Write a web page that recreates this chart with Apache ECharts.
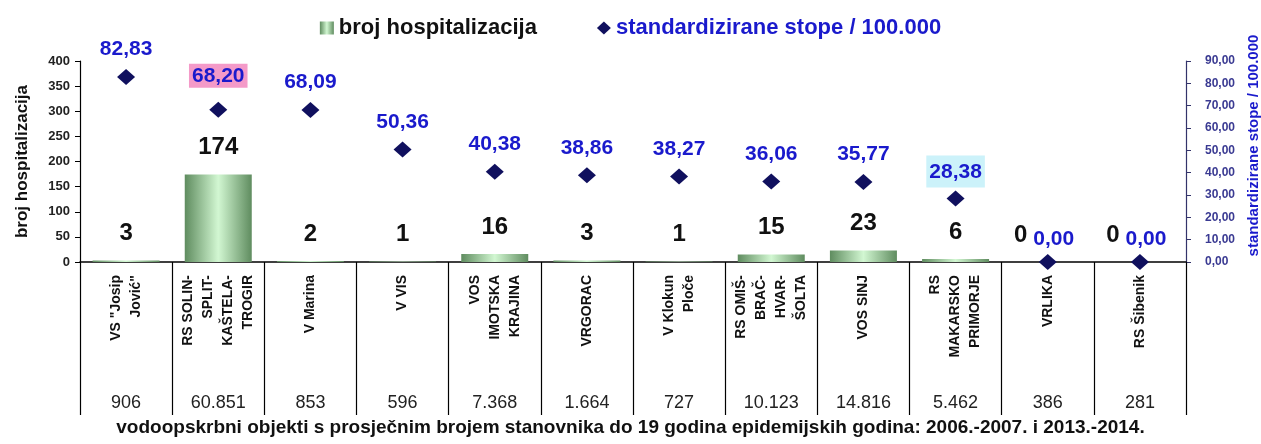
<!DOCTYPE html>
<html>
<head>
<meta charset="utf-8">
<script src="https://cdn.jsdelivr.net/npm/echarts@6/dist/echarts.min.js"></script>
<style>
  html, body { margin: 0; padding: 0; background: #fff; }
  #chart { width: 1261px; height: 444px; }
</style>
</head>
<body>
<div id="chart"></div>
<script>
// data
const objekti = [
  'VS "Josip\nJović"',
  'RS SOLIN-\nSPLIT-\nKAŠTELA-\nTROGIR',
  'V Marina',
  'V VIS',
  'VOS\nIMOTSKA\nKRAJINA',
  'VRGORAC',
  'V Klokun\nPloče',
  'RS OMIŠ-\nBRAČ-\nHVAR-\nŠOLTA',
  'VOS SINJ',
  'RS\nMAKARSKO\nPRIMORJE',
  'VRLIKA',
  'RS Šibenik'
];
const stanovnika = ['906', '60.851', '853', '596', '7.368', '1.664', '727', '10.123', '14.816', '5.462', '386', '281'];
const hospitalizacije = [3, 174, 2, 1, 16, 3, 1, 15, 23, 6, 0, 0];
const stope = [82.83, 68.20, 68.09, 50.36, 40.38, 38.86, 38.27, 36.06, 35.77, 28.38, 0, 0];

const font = 'Liberation Sans, Arial, sans-serif';
const narrow = 'Liberation Sans Narrow, Arial Narrow, Liberation Sans, sans-serif';
const blue = '#1a1acc';

// highlighted labels in the original (Excel) chart
const labelBox = {
  1: { backgroundColor: '#f49ac8', padding: [2, 3, 1, 3], distance: 14 },
  9: { backgroundColor: '#ccf2fa', padding: [6, 3, 5, 3], distance: 3 }
};

const fmt = (v) => v.toFixed(2).replace('.', ',');

var myChart = echarts.init(document.getElementById('chart'));

const stopeData = stope.map((v, i) => {
  let item = { value: v };
  if (labelBox[i]) item.label = labelBox[i];
  if (v === 0) item.label = { offset: [6, 5] };
  return item;
});

// Excel pushed the "0" labels to the left of the zero-rate labels
const hospData = hospitalizacije.map((v) => {
  let item = { value: v };
  if (v === 0) item.label = { offset: [-27, 0] };
  return item;
});

let option = {
  animation: false,
  textStyle: { fontFamily: font },
  legend: {
    top: 12,
    left: 'center',
    itemGap: 60,
    itemWidth: 14,
    itemHeight: 13,
    textStyle: { fontSize: 22, fontWeight: 'bold', fontFamily: font },
    data: [
      { name: 'broj hospitalizacija', icon: 'rect', textStyle: { color: '#111' } },
      { name: 'standardizirane stope / 100.000', icon: 'diamond', textStyle: { color: blue } }
    ]
  },
  title: {
    text: 'vodoopskrbni objekti s prosječnim brojem stanovnika do 19 godina epidemijskih godina: 2006.-2007. i 2013.-2014.',
    left: 'center',
    bottom: 2,
    textStyle: { fontSize: 19, fontWeight: 'bold', color: '#111', fontFamily: font }
  },
  grid: { left: 80, right: 75, top: 61, bottom: 182, outerBoundsMode: 'none' },
  xAxis: [
    {
      type: 'category',
      data: objekti,
      axisLine: { lineStyle: { color: '#000', width: 1.5 } },
      axisTick: { show: true, interval: 0, length: 153, lineStyle: { color: '#000', width: 1.2 } },
      axisLabel: {
        interval: 0,
        rotate: 90,
        margin: 13,
        fontSize: 14,
        fontWeight: 'bold',
        color: '#111',
        lineHeight: 20
      }
    },
    {
      type: 'category',
      position: 'bottom',
      offset: 130,
      data: stanovnika,
      axisLine: { show: false },
      axisTick: { show: false },
      axisLabel: { interval: 0, margin: 2, fontSize: 18, color: '#222', fontFamily: narrow }
    }
  ],
  yAxis: [
    {
      type: 'value',
      min: 0,
      max: 400,
      interval: 50,
      name: 'broj hospitalizacija',
      nameLocation: 'middle',
      nameGap: 49,
      nameTextStyle: { fontSize: 17, fontWeight: 'bold', color: '#111' },
      axisLine: { show: true, lineStyle: { color: '#000', width: 1.2 } },
      axisTick: { show: true, length: 5, lineStyle: { color: '#000' } },
      axisLabel: { fontSize: 13, fontWeight: 'bold', color: '#222', margin: 10 },
      splitLine: { show: false }
    },
    {
      type: 'value',
      min: 0,
      max: 90,
      interval: 10,
      name: 'standardizirane stope / 100.000',
      nameLocation: 'middle',
      nameGap: 58,
      nameRotate: 90,
      nameTextStyle: { fontSize: 15, fontWeight: 'bold', color: blue, padding: [0, 0, 0, 32] },
      axisLine: { show: true, lineStyle: { color: '#33336a', width: 1.2 } },
      axisTick: { show: true, length: 5, lineStyle: { color: '#33336a' } },
      axisLabel: { fontSize: 12, fontWeight: 'bold', color: '#3a3a92', margin: 19, formatter: fmt },
      splitLine: { show: false }
    }
  ],
  series: [
    {
      name: 'broj hospitalizacija',
      type: 'bar',
      barWidth: 67,
      data: hospData,
      itemStyle: {
        color: new echarts.graphic.LinearGradient(0, 0, 1, 0, [
          { offset: 0, color: '#5f8c5f' },
          { offset: 0.5, color: '#d2f7d2' },
          { offset: 1, color: '#5f8c5f' }
        ])
      },
      label: {
        show: true,
        position: 'top',
        distance: 15,
        fontSize: 24,
        fontWeight: 'bold',
        color: '#111'
      }
    },
    {
      name: 'standardizirane stope / 100.000',
      type: 'scatter',
      yAxisIndex: 1,
      symbol: 'diamond',
      symbolSize: [18, 16],
      data: stopeData,
      z: 5,
      itemStyle: { color: '#10105e', opacity: 1 },
      label: {
        show: true,
        position: 'top',
        distance: 9,
        fontSize: 21,
        fontWeight: 'bold',
        color: blue,
        formatter: (p) => fmt(p.value)
      }
    }
  ]
};

option && myChart.setOption(option);
</script>
</body>
</html>
